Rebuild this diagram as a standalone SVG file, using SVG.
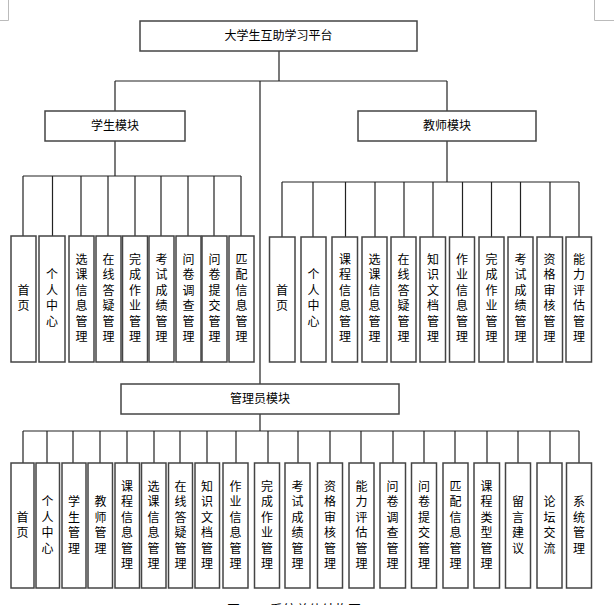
<svg xmlns="http://www.w3.org/2000/svg" width="614" height="605" viewBox="0 0 614 605">
<style>
.box{fill:#fff;stroke:#444;stroke-width:1.5}
.ln{fill:none;stroke:#222;stroke-width:1.2}
.mk{fill:none;stroke:#bbb;stroke-width:1}
text{font-family:"Noto Sans CJK SC","Noto Sans",sans-serif;font-size:12px;fill:#000}
.c{text-anchor:middle}
</style>
<rect width="614" height="605" fill="#fff"/>
<path class="mk" d="M8.5 0V20.5H0M594.5 0V20.5H614"/>
<g id="connectors">
<path class="ln" d="M279 51V81M115 81H447M115 81V111M447 81V111M260 81V384"/>
<path class="ln" d="M115 141V176M23 176H241M23 176V236M52.5 176V236M81 176V236M108 176V236M135 176V236M161 176V236M188 176V236M214 176V236M241 176V236"/>
<path class="ln" d="M447 141V182M282 182H579M282 182V237M313 182V237M345.5 182V237M375 182V237M404 182V237M433 182V237M462.5 182V237M491.5 182V237M520.5 182V237M550 182V237M579 182V237"/>
<path class="ln" d="M260 414V431M23 431H579M23 431V463M47 431V463M73 431V463M100 431V463M127 431V463M154 431V463M180 431V463M207 431V463M236 431V463M268 431V463M298 431V463M330 431V463M361 431V463M393 431V463M424 431V463M455 431V463M487 431V463M518 431V463M550 431V463M579 431V463"/>
</g>
<g id="root"><rect class="box" x="140" y="21" width="277" height="30"/><text class="c" x="278.5" y="40">大学生互助学习平台</text></g>
<g id="student"><rect class="box" x="45" y="111" width="140" height="30"/><text class="c" x="115" y="130">学生模块</text></g>
<g id="teacher"><rect class="box" x="358" y="111" width="178" height="30"/><text class="c" x="447" y="130">教师模块</text></g>
<g id="admin"><rect class="box" x="121" y="384" width="278" height="30"/><text class="c" x="260" y="403">管理员模块</text></g>

<g id="s1"><rect class="box" x="11" y="236" width="25" height="126"/><text class="c" y="294.5"><tspan x="23.5">首</tspan><tspan x="23.5" dy="15.5">页</tspan></text></g>
<g id="s2"><rect class="box" x="39" y="236" width="26" height="126"/><text class="c" y="279"><tspan x="52">个</tspan><tspan x="52" dy="15.5">人</tspan><tspan x="52" dy="15.5">中</tspan><tspan x="52" dy="15.5">心</tspan></text></g>
<g id="s3"><rect class="box" x="69" y="236" width="25" height="126"/><text class="c" y="263.5"><tspan x="81.5">选</tspan><tspan x="81.5" dy="15.5">课</tspan><tspan x="81.5" dy="15.5">信</tspan><tspan x="81.5" dy="15.5">息</tspan><tspan x="81.5" dy="15.5">管</tspan><tspan x="81.5" dy="15.5">理</tspan></text></g>
<g id="s4"><rect class="box" x="96" y="236" width="25" height="126"/><text class="c" y="263.5"><tspan x="108.5">在</tspan><tspan x="108.5" dy="15.5">线</tspan><tspan x="108.5" dy="15.5">答</tspan><tspan x="108.5" dy="15.5">疑</tspan><tspan x="108.5" dy="15.5">管</tspan><tspan x="108.5" dy="15.5">理</tspan></text></g>
<g id="s5"><rect class="box" x="122.5" y="236" width="25" height="126"/><text class="c" y="263.5"><tspan x="135">完</tspan><tspan x="135" dy="15.5">成</tspan><tspan x="135" dy="15.5">作</tspan><tspan x="135" dy="15.5">业</tspan><tspan x="135" dy="15.5">管</tspan><tspan x="135" dy="15.5">理</tspan></text></g>
<g id="s6"><rect class="box" x="149" y="236" width="25" height="126"/><text class="c" y="263.5"><tspan x="161.5">考</tspan><tspan x="161.5" dy="15.5">试</tspan><tspan x="161.5" dy="15.5">成</tspan><tspan x="161.5" dy="15.5">绩</tspan><tspan x="161.5" dy="15.5">管</tspan><tspan x="161.5" dy="15.5">理</tspan></text></g>
<g id="s7"><rect class="box" x="176" y="236" width="25" height="126"/><text class="c" y="263.5"><tspan x="188.5">问</tspan><tspan x="188.5" dy="15.5">卷</tspan><tspan x="188.5" dy="15.5">调</tspan><tspan x="188.5" dy="15.5">查</tspan><tspan x="188.5" dy="15.5">管</tspan><tspan x="188.5" dy="15.5">理</tspan></text></g>
<g id="s8"><rect class="box" x="202" y="236" width="25" height="126"/><text class="c" y="263.5"><tspan x="214.5">问</tspan><tspan x="214.5" dy="15.5">卷</tspan><tspan x="214.5" dy="15.5">提</tspan><tspan x="214.5" dy="15.5">交</tspan><tspan x="214.5" dy="15.5">管</tspan><tspan x="214.5" dy="15.5">理</tspan></text></g>
<g id="s9"><rect class="box" x="229" y="236" width="25" height="126"/><text class="c" y="263.5"><tspan x="241.5">匹</tspan><tspan x="241.5" dy="15.5">配</tspan><tspan x="241.5" dy="15.5">信</tspan><tspan x="241.5" dy="15.5">息</tspan><tspan x="241.5" dy="15.5">管</tspan><tspan x="241.5" dy="15.5">理</tspan></text></g>

<g id="t1"><rect class="box" x="269.5" y="237" width="25.5" height="125"/><text class="c" y="294.5"><tspan x="282">首</tspan><tspan x="282" dy="15.5">页</tspan></text></g>
<g id="t2"><rect class="box" x="301" y="237" width="25" height="125"/><text class="c" y="279"><tspan x="313.5">个</tspan><tspan x="313.5" dy="15.5">人</tspan><tspan x="313.5" dy="15.5">中</tspan><tspan x="313.5" dy="15.5">心</tspan></text></g>
<g id="t3"><rect class="box" x="332" y="237" width="25.5" height="125"/><text class="c" y="263.5"><tspan x="345">课</tspan><tspan x="345" dy="15.5">程</tspan><tspan x="345" dy="15.5">信</tspan><tspan x="345" dy="15.5">息</tspan><tspan x="345" dy="15.5">管</tspan><tspan x="345" dy="15.5">理</tspan></text></g>
<g id="t4"><rect class="box" x="362" y="237" width="25" height="125"/><text class="c" y="263.5"><tspan x="374.5">选</tspan><tspan x="374.5" dy="15.5">课</tspan><tspan x="374.5" dy="15.5">信</tspan><tspan x="374.5" dy="15.5">息</tspan><tspan x="374.5" dy="15.5">管</tspan><tspan x="374.5" dy="15.5">理</tspan></text></g>
<g id="t5"><rect class="box" x="391" y="237" width="25" height="125"/><text class="c" y="263.5"><tspan x="403.5">在</tspan><tspan x="403.5" dy="15.5">线</tspan><tspan x="403.5" dy="15.5">答</tspan><tspan x="403.5" dy="15.5">疑</tspan><tspan x="403.5" dy="15.5">管</tspan><tspan x="403.5" dy="15.5">理</tspan></text></g>
<g id="t6"><rect class="box" x="420" y="237" width="25.5" height="125"/><text class="c" y="263.5"><tspan x="433">知</tspan><tspan x="433" dy="15.5">识</tspan><tspan x="433" dy="15.5">文</tspan><tspan x="433" dy="15.5">档</tspan><tspan x="433" dy="15.5">管</tspan><tspan x="433" dy="15.5">理</tspan></text></g>
<g id="t7"><rect class="box" x="449.5" y="237" width="25" height="125"/><text class="c" y="263.5"><tspan x="462">作</tspan><tspan x="462" dy="15.5">业</tspan><tspan x="462" dy="15.5">信</tspan><tspan x="462" dy="15.5">息</tspan><tspan x="462" dy="15.5">管</tspan><tspan x="462" dy="15.5">理</tspan></text></g>
<g id="t8"><rect class="box" x="479" y="237" width="25" height="125"/><text class="c" y="263.5"><tspan x="491.5">完</tspan><tspan x="491.5" dy="15.5">成</tspan><tspan x="491.5" dy="15.5">作</tspan><tspan x="491.5" dy="15.5">业</tspan><tspan x="491.5" dy="15.5">管</tspan><tspan x="491.5" dy="15.5">理</tspan></text></g>
<g id="t9"><rect class="box" x="508" y="237" width="25" height="125"/><text class="c" y="263.5"><tspan x="520.5">考</tspan><tspan x="520.5" dy="15.5">试</tspan><tspan x="520.5" dy="15.5">成</tspan><tspan x="520.5" dy="15.5">绩</tspan><tspan x="520.5" dy="15.5">管</tspan><tspan x="520.5" dy="15.5">理</tspan></text></g>
<g id="t10"><rect class="box" x="537" y="237" width="25.5" height="125"/><text class="c" y="263.5"><tspan x="549.5">资</tspan><tspan x="549.5" dy="15.5">格</tspan><tspan x="549.5" dy="15.5">审</tspan><tspan x="549.5" dy="15.5">核</tspan><tspan x="549.5" dy="15.5">管</tspan><tspan x="549.5" dy="15.5">理</tspan></text></g>
<g id="t11"><rect class="box" x="566" y="237" width="25.5" height="125"/><text class="c" y="263.5"><tspan x="579">能</tspan><tspan x="579" dy="15.5">力</tspan><tspan x="579" dy="15.5">评</tspan><tspan x="579" dy="15.5">估</tspan><tspan x="579" dy="15.5">管</tspan><tspan x="579" dy="15.5">理</tspan></text></g>

<g id="a1"><rect class="box" x="11" y="463" width="23" height="125"/><text class="c" y="521.5"><tspan x="22.5">首</tspan><tspan x="22.5" dy="15.5">页</tspan></text></g>
<g id="a2"><rect class="box" x="36" y="463" width="23.5" height="125"/><text class="c" y="506"><tspan x="47.5">个</tspan><tspan x="47.5" dy="15.5">人</tspan><tspan x="47.5" dy="15.5">中</tspan><tspan x="47.5" dy="15.5">心</tspan></text></g>
<g id="a3"><rect class="box" x="62" y="463" width="24" height="125"/><text class="c" y="506"><tspan x="74">学</tspan><tspan x="74" dy="15.5">生</tspan><tspan x="74" dy="15.5">管</tspan><tspan x="74" dy="15.5">理</tspan></text></g>
<g id="a4"><rect class="box" x="88" y="463" width="24.5" height="125"/><text class="c" y="506"><tspan x="100.5">教</tspan><tspan x="100.5" dy="15.5">师</tspan><tspan x="100.5" dy="15.5">管</tspan><tspan x="100.5" dy="15.5">理</tspan></text></g>
<g id="a5"><rect class="box" x="115" y="463" width="24.5" height="125"/><text class="c" y="490.5"><tspan x="127">课</tspan><tspan x="127" dy="15.5">程</tspan><tspan x="127" dy="15.5">信</tspan><tspan x="127" dy="15.5">息</tspan><tspan x="127" dy="15.5">管</tspan><tspan x="127" dy="15.5">理</tspan></text></g>
<g id="a6"><rect class="box" x="141.5" y="463" width="24.5" height="125"/><text class="c" y="490.5"><tspan x="153.5">选</tspan><tspan x="153.5" dy="15.5">课</tspan><tspan x="153.5" dy="15.5">信</tspan><tspan x="153.5" dy="15.5">息</tspan><tspan x="153.5" dy="15.5">管</tspan><tspan x="153.5" dy="15.5">理</tspan></text></g>
<g id="a7"><rect class="box" x="168.5" y="463" width="24" height="125"/><text class="c" y="490.5"><tspan x="180.5">在</tspan><tspan x="180.5" dy="15.5">线</tspan><tspan x="180.5" dy="15.5">答</tspan><tspan x="180.5" dy="15.5">疑</tspan><tspan x="180.5" dy="15.5">管</tspan><tspan x="180.5" dy="15.5">理</tspan></text></g>
<g id="a8"><rect class="box" x="195" y="463" width="24.5" height="125"/><text class="c" y="490.5"><tspan x="207">知</tspan><tspan x="207" dy="15.5">识</tspan><tspan x="207" dy="15.5">文</tspan><tspan x="207" dy="15.5">档</tspan><tspan x="207" dy="15.5">管</tspan><tspan x="207" dy="15.5">理</tspan></text></g>
<g id="a9"><rect class="box" x="223" y="463" width="25" height="125"/><text class="c" y="490.5"><tspan x="235.5">作</tspan><tspan x="235.5" dy="15.5">业</tspan><tspan x="235.5" dy="15.5">信</tspan><tspan x="235.5" dy="15.5">息</tspan><tspan x="235.5" dy="15.5">管</tspan><tspan x="235.5" dy="15.5">理</tspan></text></g>
<g id="a10"><rect class="box" x="254.5" y="463" width="25" height="125"/><text class="c" y="490.5"><tspan x="267">完</tspan><tspan x="267" dy="15.5">成</tspan><tspan x="267" dy="15.5">作</tspan><tspan x="267" dy="15.5">业</tspan><tspan x="267" dy="15.5">管</tspan><tspan x="267" dy="15.5">理</tspan></text></g>
<g id="a11"><rect class="box" x="285" y="463" width="25" height="125"/><text class="c" y="490.5"><tspan x="297.5">考</tspan><tspan x="297.5" dy="15.5">试</tspan><tspan x="297.5" dy="15.5">成</tspan><tspan x="297.5" dy="15.5">绩</tspan><tspan x="297.5" dy="15.5">管</tspan><tspan x="297.5" dy="15.5">理</tspan></text></g>
<g id="a12"><rect class="box" x="317.5" y="463" width="25" height="125"/><text class="c" y="490.5"><tspan x="330">资</tspan><tspan x="330" dy="15.5">格</tspan><tspan x="330" dy="15.5">审</tspan><tspan x="330" dy="15.5">核</tspan><tspan x="330" dy="15.5">管</tspan><tspan x="330" dy="15.5">理</tspan></text></g>
<g id="a13"><rect class="box" x="349" y="463" width="25" height="125"/><text class="c" y="490.5"><tspan x="361.5">能</tspan><tspan x="361.5" dy="15.5">力</tspan><tspan x="361.5" dy="15.5">评</tspan><tspan x="361.5" dy="15.5">估</tspan><tspan x="361.5" dy="15.5">管</tspan><tspan x="361.5" dy="15.5">理</tspan></text></g>
<g id="a14"><rect class="box" x="380" y="463" width="25.5" height="125"/><text class="c" y="490.5"><tspan x="392.5">问</tspan><tspan x="392.5" dy="15.5">卷</tspan><tspan x="392.5" dy="15.5">调</tspan><tspan x="392.5" dy="15.5">查</tspan><tspan x="392.5" dy="15.5">管</tspan><tspan x="392.5" dy="15.5">理</tspan></text></g>
<g id="a15"><rect class="box" x="411.5" y="463" width="25" height="125"/><text class="c" y="490.5"><tspan x="424">问</tspan><tspan x="424" dy="15.5">卷</tspan><tspan x="424" dy="15.5">提</tspan><tspan x="424" dy="15.5">交</tspan><tspan x="424" dy="15.5">管</tspan><tspan x="424" dy="15.5">理</tspan></text></g>
<g id="a16"><rect class="box" x="443" y="463" width="25" height="125"/><text class="c" y="490.5"><tspan x="455.5">匹</tspan><tspan x="455.5" dy="15.5">配</tspan><tspan x="455.5" dy="15.5">信</tspan><tspan x="455.5" dy="15.5">息</tspan><tspan x="455.5" dy="15.5">管</tspan><tspan x="455.5" dy="15.5">理</tspan></text></g>
<g id="a17"><rect class="box" x="474" y="463" width="25.5" height="125"/><text class="c" y="490.5"><tspan x="486.5">课</tspan><tspan x="486.5" dy="15.5">程</tspan><tspan x="486.5" dy="15.5">类</tspan><tspan x="486.5" dy="15.5">型</tspan><tspan x="486.5" dy="15.5">管</tspan><tspan x="486.5" dy="15.5">理</tspan></text></g>
<g id="a18"><rect class="box" x="505.5" y="463" width="25" height="125"/><text class="c" y="506"><tspan x="518">留</tspan><tspan x="518" dy="15.5">言</tspan><tspan x="518" dy="15.5">建</tspan><tspan x="518" dy="15.5">议</tspan></text></g>
<g id="a19"><rect class="box" x="537" y="463" width="25" height="125"/><text class="c" y="506"><tspan x="549.5">论</tspan><tspan x="549.5" dy="15.5">坛</tspan><tspan x="549.5" dy="15.5">交</tspan><tspan x="549.5" dy="15.5">流</tspan></text></g>
<g id="a20"><rect class="box" x="566.5" y="463" width="25" height="125"/><text class="c" y="506"><tspan x="579">系</tspan><tspan x="579" dy="15.5">统</tspan><tspan x="579" dy="15.5">管</tspan><tspan x="579" dy="15.5">理</tspan></text></g>

<g id="caption"><text x="227" y="614" style="font-size:13px">图</text><text x="270" y="614" style="font-size:13px">系统总体结构图</text></g>
</svg>
